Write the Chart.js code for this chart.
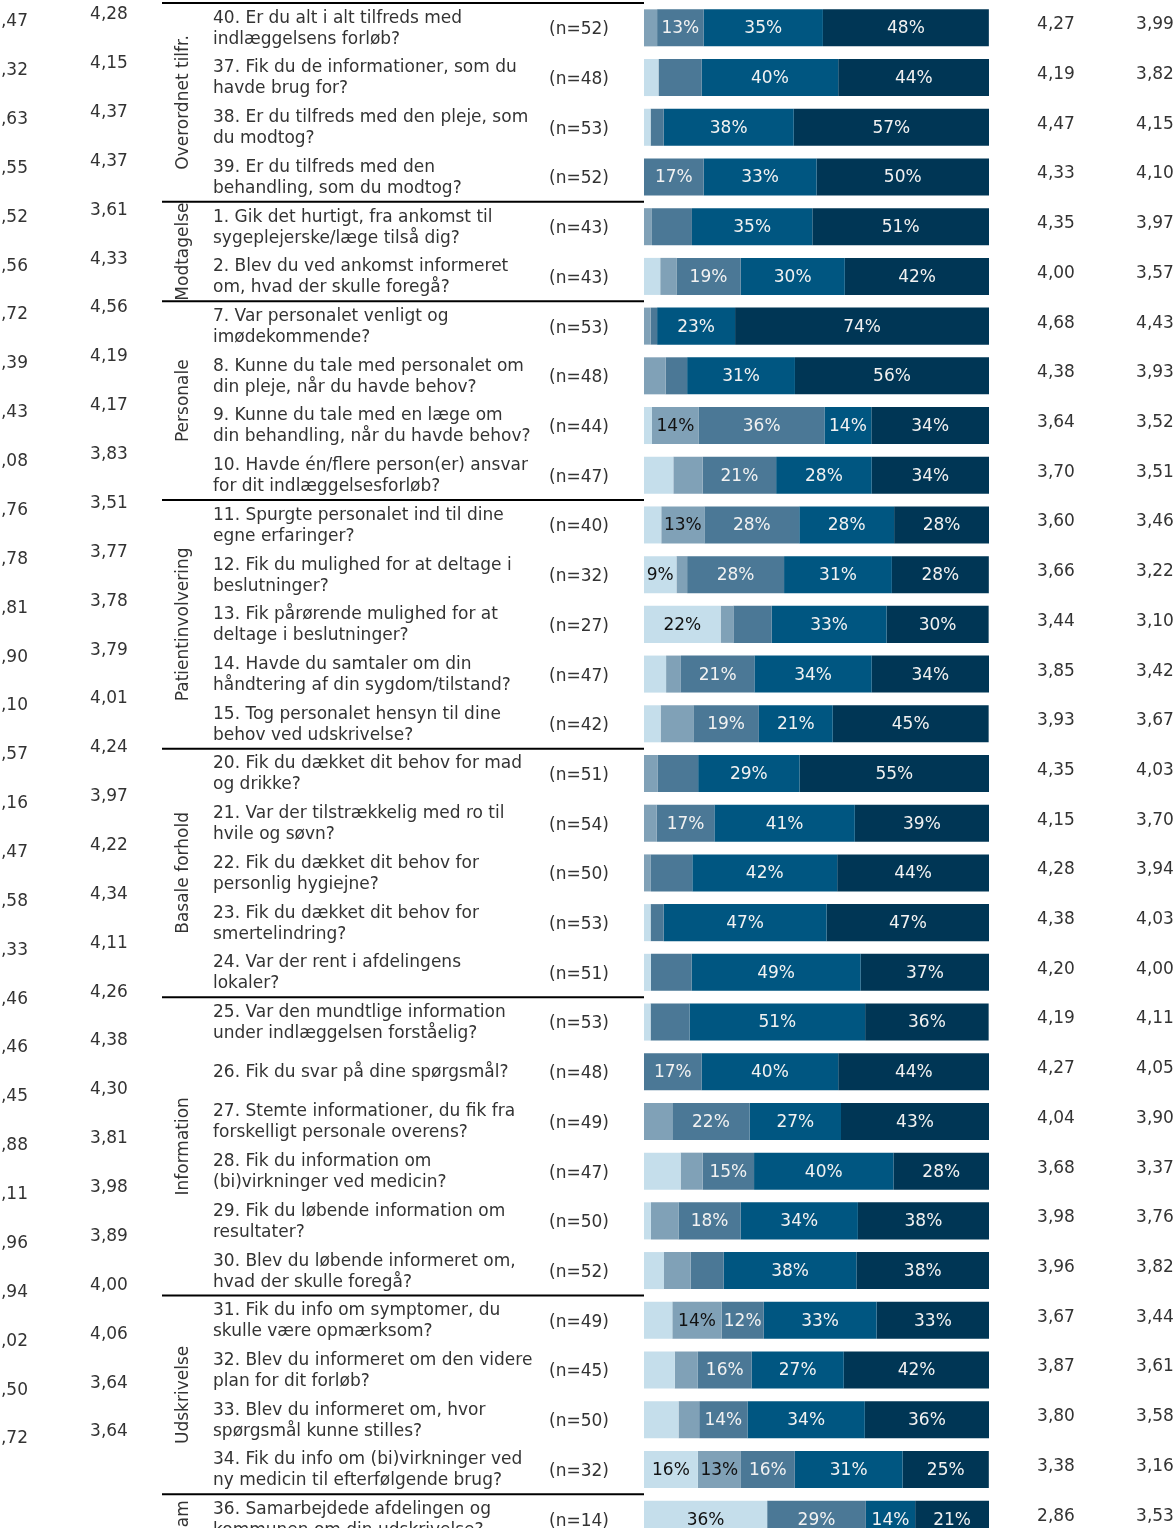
<!DOCTYPE html>
<html>
<head>
<meta charset="utf-8">
<script src="https://cdn.jsdelivr.net/npm/chart.js@4.4.1/dist/chart.umd.min.js"></script>
<style>
  body { margin: 0; background: #fff; overflow: hidden; }
  #wrap { width: 1176px; height: 1528px; overflow: hidden; }
</style>
</head>
<body>
<div id="wrap"><canvas id="chart" width="1176" height="1548"></canvas></div>
<script>
// questions, '|' = line break
const questions = [
  '40. Er du alt i alt tilfreds med|indlæggelsens forløb?',
  '37. Fik du de informationer, som du|havde brug for?',
  '38. Er du tilfreds med den pleje, som|du modtog?',
  '39. Er du tilfreds med den|behandling, som du modtog?',
  '1. Gik det hurtigt, fra ankomst til|sygeplejerske/læge tilså dig?',
  '2. Blev du ved ankomst informeret|om, hvad der skulle foregå?',
  '7. Var personalet venligt og|imødekommende?',
  '8. Kunne du tale med personalet om|din pleje, når du havde behov?',
  '9. Kunne du tale med en læge om|din behandling, når du havde behov?',
  '10. Havde én/flere person(er) ansvar|for dit indlæggelsesforløb?',
  '11. Spurgte personalet ind til dine|egne erfaringer?',
  '12. Fik du mulighed for at deltage i|beslutninger?',
  '13. Fik pårørende mulighed for at|deltage i beslutninger?',
  '14. Havde du samtaler om din|håndtering af din sygdom/tilstand?',
  '15. Tog personalet hensyn til dine|behov ved udskrivelse?',
  '20. Fik du dækket dit behov for mad|og drikke?',
  '21. Var der tilstrækkelig med ro til|hvile og søvn?',
  '22. Fik du dækket dit behov for|personlig hygiejne?',
  '23. Fik du dækket dit behov for|smertelindring?',
  '24. Var der rent i afdelingens|lokaler?',
  '25. Var den mundtlige information|under indlæggelsen forståelig?',
  '26. Fik du svar på dine spørgsmål?',
  '27. Stemte informationer, du fik fra|forskelligt personale overens?',
  '28. Fik du information om|(bi)virkninger ved medicin?',
  '29. Fik du løbende information om|resultater?',
  '30. Blev du løbende informeret om,|hvad der skulle foregå?',
  '31. Fik du info om symptomer, du|skulle være opmærksom?',
  '32. Blev du informeret om den videre|plan for dit forløb?',
  '33. Blev du informeret om, hvor|spørgsmål kunne stilles?',
  '34. Fik du info om (bi)virkninger ved|ny medicin til efterfølgende brug?',
  '36. Samarbejdede afdelingen og|kommunen om din udskrivelse?'
];
const nValues = [52,48,53,52,43,43,53,48,44,47,40,32,27,47,42,51,54,50,53,51,53,48,49,47,50,52,49,45,50,32,14];

const groups = ['Overordnet tilfr.', 'Modtagelse', 'Personale', 'Patientinvolvering', 'Basale forhold', 'Information', 'Udskrivelse', 'Sam'];
const groupSizes = [4, 2, 4, 5, 5, 6, 4, 1];

// answer shares in %, from lowest to highest rating
const s1 = [0,4.2,1.9,0,0,4.7,0,0,2.3,8.5,5.0,9.4,22.2,6.4,4.8,0,0,0,1.9,2.0,1.9,0,0,10.6,2.0,5.8,8.2,8.9,10.0,15.6,35.7];
const s2 = [3.8,0,0,0,2.3,4.7,1.9,6.25,13.6,8.5,12.5,3.1,3.7,4.3,9.5,3.9,3.7,2.0,0,0,0,0,8.2,6.4,8.0,7.7,14.3,6.7,6.0,12.5,0];
const s3 = [13.46,12.5,3.8,17.3,11.6,18.6,1.9,6.25,36.4,21.3,27.5,28.1,11.1,21.3,19.0,11.8,16.7,12.0,3.8,11.8,11.3,16.7,22.4,14.9,18.0,9.6,12.2,15.6,14.0,15.6,28.6];
const s4 = [34.6,39.6,37.7,32.7,34.9,30.2,22.6,31.25,13.6,27.7,27.5,31.25,33.3,34.0,21.4,29.4,40.7,42.0,47.2,49.0,50.9,39.6,26.5,40.4,34.0,38.46,32.7,26.7,34.0,31.25,14.3];
const s5 = [48.1,43.8,56.6,50.0,51.2,41.9,73.6,56.25,34.1,34.0,27.5,28.1,29.6,34.0,45.2,54.9,38.9,44.0,47.2,37.3,35.8,43.8,42.9,27.7,38.0,38.46,32.7,42.2,36.0,25.0,21.4];
const colors = ['#c5deeb', '#80a1b7', '#4b7896', '#005681', '#003655'];

// label rules: row-segment keys
const labelMin = 12.2;
const skipLabels = ['1-2'];
const extraLabels = ['11-0'];

// mean columns to the right
const meanA = ['4,27','4,19','4,47','4,33','4,35','4,00','4,68','4,38','3,64','3,70','3,60','3,66','3,44','3,85','3,93','4,35','4,15','4,28','4,38','4,20','4,19','4,27','4,04','3,68','3,98','3,96','3,67','3,87','3,80','3,38','2,86'];
const meanB = ['3,99','3,82','4,15','4,10','3,97','3,57','4,43','3,93','3,52','3,51','3,46','3,22','3,10','3,42','3,67','4,03','3,70','3,94','4,03','4,00','4,11','4,05','3,90','3,37','3,76','3,82','3,44','3,61','3,58','3,16','3,53'];

// columns on the left (cut by the page edge), rows slightly tighter than the bars
const prevA = [',47',',32',',63',',55',',52',',56',',72',',39',',43',',08',',76',',78',',81',',90',',10',',57',',16',',47',',58',',33',',46',',46',',45',',88',',11',',96',',94',',02',',50',',72'];
const prevB = ['4,28','4,15','4,37','4,37','3,61','4,33','4,56','4,19','4,17','3,83','3,51','3,77','3,78','3,79','4,01','4,24','3,97','4,22','4,34','4,11','4,26','4,38','4,30','3,81','3,98','3,89','4,00','4,06','3,64','3,64'];
const prevStart = -0.12;
const prevStep = 0.983;

const FONT = '17px "DejaVu Sans", Verdana, sans-serif';

const tablePlugin = {
    id: 'table',
    afterDatasetsDraw(chart) {
        const ctx = chart.ctx;
        const y = chart.scales.y;
        const step = y.getPixelForValue(1) - y.getPixelForValue(0);
        ctx.save();
        ctx.font = FONT;
        ctx.textBaseline = 'middle';

        // percent labels in the bars
        ctx.textAlign = 'center';
        chart.data.datasets.forEach((ds, di) => {
            chart.getDatasetMeta(di).data.forEach((bar, i) => {
                const v = ds.data[i];
                const key = i + '-' + di;
                const show = (v >= labelMin && !skipLabels.includes(key)) || extraLabels.includes(key);
                if (!show) return;
                ctx.fillStyle = di < 2 ? '#111' : '#f2f2f2';
                ctx.fillText(Math.round(v) + '%', (bar.x + bar.base) / 2, bar.y + 1);
            });
        });

        ctx.fillStyle = '#333';
        questions.forEach((q, i) => {
            const cy = y.getPixelForValue(i);
            const lines = q.split('|');
            ctx.textAlign = 'left';
            lines.forEach((t, k) => {
                ctx.fillText(t, 213, cy + 1 + (k - (lines.length - 1) / 2) * 21);
            });
            ctx.fillText('(n=' + nValues[i] + ')', 549, cy + 2);
            ctx.textAlign = 'center';
            ctx.fillText(meanA[i], 1056, cy - 3);
            ctx.fillText(meanB[i], 1155, cy - 3);
        });

        prevA.forEach((t, i) => {
            const py = y.getPixelForValue(prevStart + i * prevStep);
            ctx.textAlign = 'right';
            ctx.fillText(t, 28, py);
            ctx.textAlign = 'center';
            ctx.fillText(prevB[i], 109, py - 7);
        });

        // group labels + separator lines
        let start = 0;
        groups.forEach((g, gi) => {
            const end = start + groupSizes[gi];
            const top = y.getPixelForValue(start) - step / 2;
            const bottom = y.getPixelForValue(end - 1) + step / 2;
            ctx.strokeStyle = '#000';
            ctx.lineWidth = 2;
            ctx.beginPath();
            ctx.moveTo(162, top);
            ctx.lineTo(644, top);
            ctx.stroke();
            ctx.save();
            ctx.translate(184, (top + bottom) / 2);
            ctx.rotate(-Math.PI / 2);
            ctx.textAlign = 'center';
            ctx.fillStyle = '#333';
            ctx.fillText(g, 0, 0);
            ctx.restore();
            start = end;
        });
        ctx.restore();
    }
};

const ctx = document.getElementById('chart').getContext('2d');

new Chart(ctx, {
    type: 'bar',
    data: {
        labels: questions.map((q, i) => i),
        datasets: [s1, s2, s3, s4, s5].map((d, k) => ({
            data: d,
            backgroundColor: colors[k],
            borderWidth: 0,
            categoryPercentage: 1,
            barPercentage: 0.745
        }))
    },
    options: {
        indexAxis: 'y',
        responsive: false,
        animation: false,
        layout: { padding: { left: 644, right: 187, top: 3, bottom: 4 } },
        plugins: { legend: { display: false }, tooltip: { enabled: false } },
        scales: {
            x: { stacked: true, min: 0, max: 100, display: false },
            y: { stacked: true, display: false }
        }
    },
    plugins: [tablePlugin]
});
</script>
</body>
</html>
